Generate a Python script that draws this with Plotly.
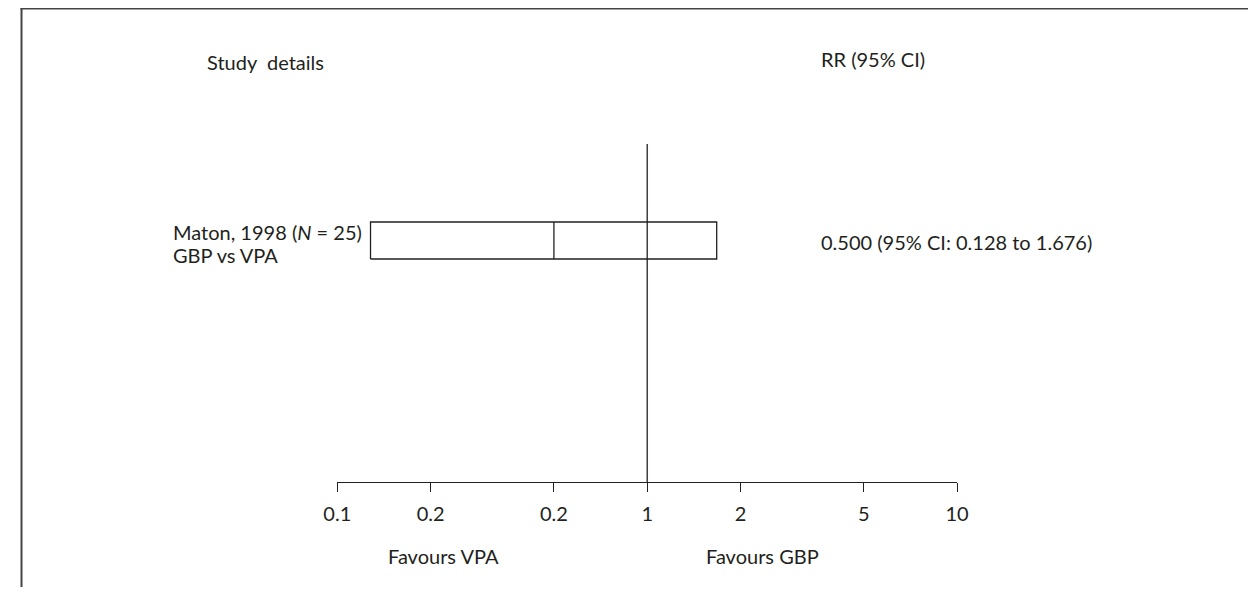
import plotly.graph_objects as go

# ---- data ----
studies = ["Maton, 1998 (<i>N</i> = 25)"]
comparisons = ["GBP vs VPA"]
rr = [0.500]
ci_low = [0.128]
ci_high = [1.676]
tick_vals = [0.1, 0.2, 0.5, 1, 2, 5, 10]
tick_text = ["0.1", "0.2", "0.2", "1", "2", "5", "10"]
header_left = "Study&nbsp;&nbsp;details"
header_right = "RR (95% CI)"
favours_left = "Favours VPA"
favours_right = "Favours GBP"

# ---- layout helpers (screen pixel -> paper) ----
OFF = 8          # page body margin
W, H = 1256 - OFF, 595 - 2 * OFF


def px(x):
    return (x - OFF) / W


def py(y):
    return 1 - (y - OFF) / H


FONT = "Lato, 'Open Sans', sans-serif"
FS = 20
TXT = "#231f20"
LINE = "#231f20"

plot_top, plot_bot = 144, 482
row_center = [240.5]
row_half = 18.5
span = plot_bot - plot_top

fig = go.Figure()

# line of no effect
fig.add_trace(go.Scatter(x=[1, 1], y=[0, 1], mode="lines",
                         line=dict(color=LINE, width=1.3), hoverinfo="skip",
                         showlegend=False))

for i, (est, lo, hi) in enumerate(zip(rr, ci_low, ci_high)):
    yc = (plot_bot - row_center[i]) / span
    hh = row_half / span
    fig.add_trace(go.Scatter(x=[lo, hi, hi, lo, lo],
                             y=[yc - hh, yc - hh, yc + hh, yc + hh, yc - hh],
                             mode="lines", line=dict(color=LINE, width=1.3),
                             hoverinfo="skip", showlegend=False))
    fig.add_trace(go.Scatter(x=[est, est], y=[yc - hh, yc + hh], mode="lines",
                             line=dict(color=LINE, width=1.3),
                             hoverinfo="skip", showlegend=False))

annotations = [
    dict(text=header_left, x=px(195), y=py(62), xanchor="left", yanchor="middle"),
    dict(text=header_right, x=px(822), y=py(59), xanchor="left", yanchor="middle"),
    dict(text=favours_left, x=px(380), y=py(556), xanchor="left", yanchor="middle"),
    dict(text=favours_right, x=px(705), y=py(556), xanchor="left", yanchor="middle"),
]
for i, (name, comp, est, lo, hi) in enumerate(zip(studies, comparisons, rr,
                                                  ci_low, ci_high)):
    annotations.append(dict(text=name, x=px(160), y=py(row_center[i] - 8.5),
                            xanchor="left", yanchor="middle"))
    annotations.append(dict(text=comp, x=px(160), y=py(row_center[i] + 14.5),
                            xanchor="left", yanchor="middle"))
    annotations.append(dict(text=f"{est:.3f} (95% CI: {lo:.3f} to {hi:.3f})",
                            x=px(822), y=py(row_center[i] + 1.5),
                            xanchor="left", yanchor="middle"))
for a in annotations:
    a.update(xref="paper", yref="paper", showarrow=False,
             font=dict(family=FONT, size=FS, color=TXT))

shapes = [
    dict(type="line", xref="paper", yref="paper", x0=px(6.5), x1=px(1256 + 10),
         y0=py(8.5), y1=py(8.5), line=dict(color="#444444", width=2)),
    dict(type="line", xref="paper", yref="paper", x0=px(7.5), x1=px(7.5),
         y0=py(8), y1=py(600), line=dict(color="#444444", width=2)),
]

fig.update_layout(
    width=W, height=H,
    margin=dict(l=0, r=0, t=0, b=0),
    paper_bgcolor="white", plot_bgcolor="white",
    font=dict(family=FONT, size=FS, color=TXT),
    annotations=annotations, shapes=shapes,
    xaxis=dict(type="log", range=[-1, 1], domain=[px(330), px(963)],
               tickmode="array", tickvals=tick_vals, ticktext=tick_text,
               showline=True, linecolor=LINE, linewidth=1.3,
               ticks="outside", ticklen=9, tickwidth=1.3, tickcolor=LINE,
               ticklabelstandoff=5,
               showgrid=False, zeroline=False, fixedrange=True,
               tickfont=dict(family=FONT, size=FS, color=TXT)),
    yaxis=dict(range=[0, 1], domain=[py(plot_bot), py(plot_top)],
               visible=False, fixedrange=True),
)

fig.write_html("out.html")
